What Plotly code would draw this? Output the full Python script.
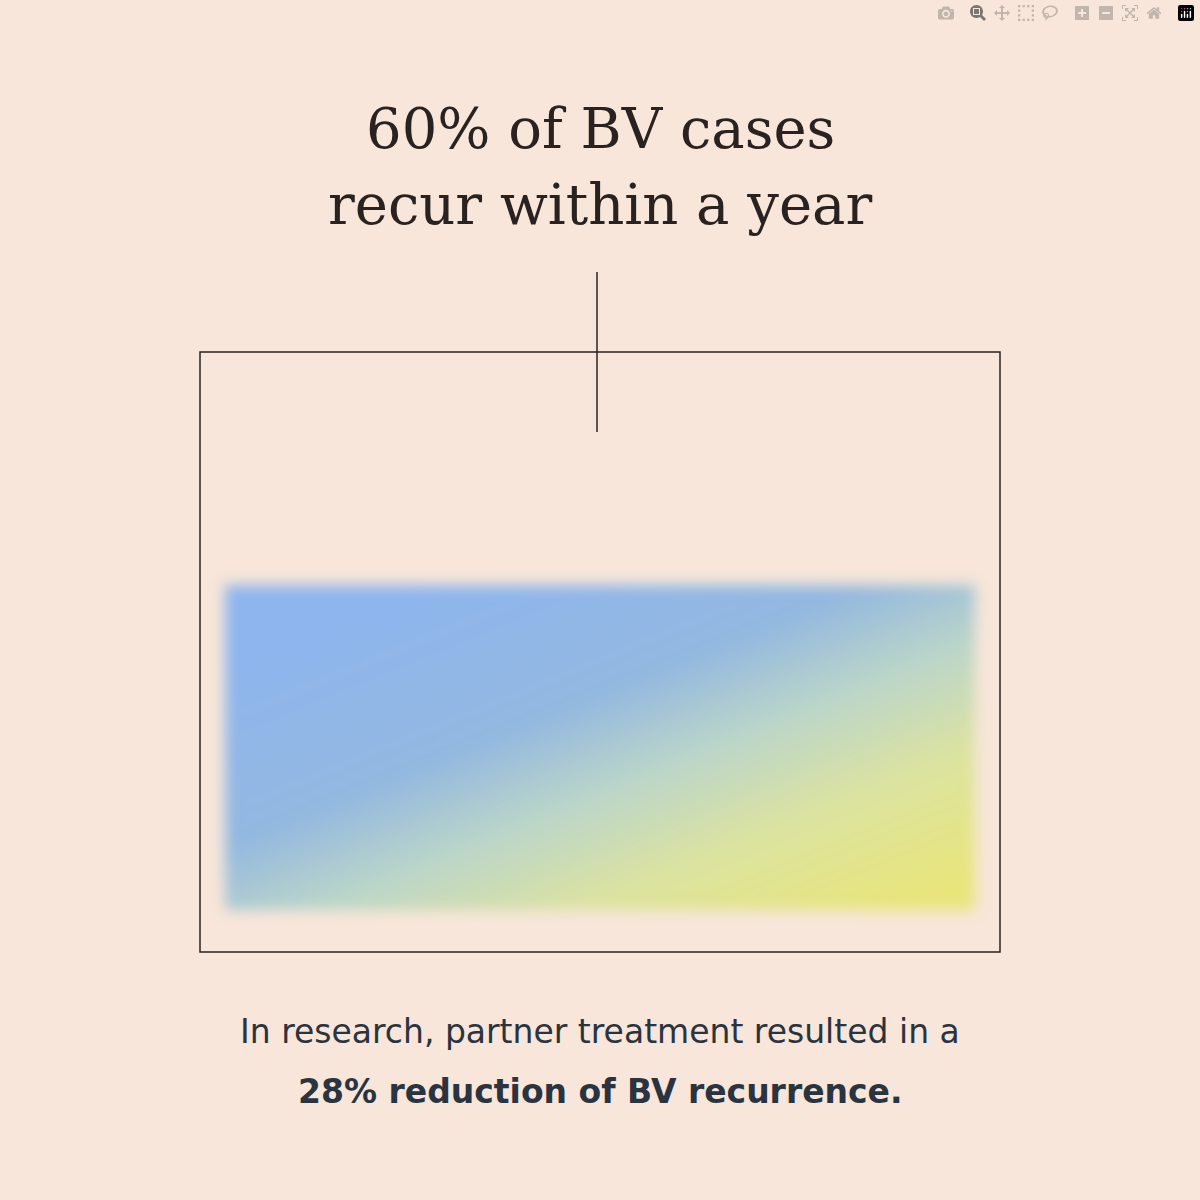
import base64
import plotly.graph_objects as go

bg = "#F7E6D9"
ink = "#2A2220"
headline = ["60% of BV cases", "recur within a year"]
caption = ["In research, partner treatment resulted in a",
           "<b>28% reduction of BV recurrence.</b>"]
grad_stops = [(0.0, "#8EB5EE"), (0.35, "#93B8E0"), (0.55, "#BCD6C8"), (0.75, "#DCE3A0"), (1.0, "#E8E57A")]

stops = "".join(f'<stop offset="{o}" stop-color="{c}"/>' for o, c in grad_stops)
svg = f'''<svg xmlns="http://www.w3.org/2000/svg" width="800" height="400" viewBox="0 0 800 400">
<defs><linearGradient id="g" x1="0.15" y1="0.1" x2="0.95" y2="0.95">{stops}</linearGradient>
<filter id="b" x="-10%" y="-10%" width="120%" height="120%"><feGaussianBlur stdDeviation="7"/></filter></defs>
<rect x="25" y="37" width="750" height="325" fill="url(#g)" filter="url(#b)"/></svg>'''
src = "data:image/svg+xml;base64," + base64.b64encode(svg.encode()).decode()

fig = go.Figure()
fig.add_trace(go.Scatter(x=[0], y=[0], mode="markers", marker=dict(opacity=0), hoverinfo="skip"))

fig.add_layout_image(source=src, xref="x", yref="y", x=200, y=548, sizex=800, sizey=400,
                     sizing="stretch", layer="below")
fig.add_shape(type="rect", x0=200, x1=1000, y0=352, y1=952, line=dict(color=ink, width=1.5))
fig.add_shape(type="line", x0=597, x1=597, y0=272, y1=432, line=dict(color=ink, width=1.5))

for i, t in enumerate(headline):
    fig.add_annotation(x=600, y=128 + i * 76, text=t, showarrow=False,
                       font=dict(family="DejaVu Serif, serif", size=56, color=ink))
for i, t in enumerate(caption):
    fig.add_annotation(x=600, y=1031 + i * 60, text=t, showarrow=False,
                       font=dict(family="DejaVu Sans, sans-serif", size=33, color="#2A3440"))

fig.update_xaxes(range=[0, 1200], visible=False)
fig.update_yaxes(range=[1200, 0], visible=False)
fig.update_layout(width=1200, height=1200, margin=dict(l=0, r=0, t=0, b=0),
                  paper_bgcolor=bg, plot_bgcolor=bg, showlegend=False)
fig.write_html("out.html", post_script="document.body.style.margin='0';document.body.style.background='#F7E6D9';")
